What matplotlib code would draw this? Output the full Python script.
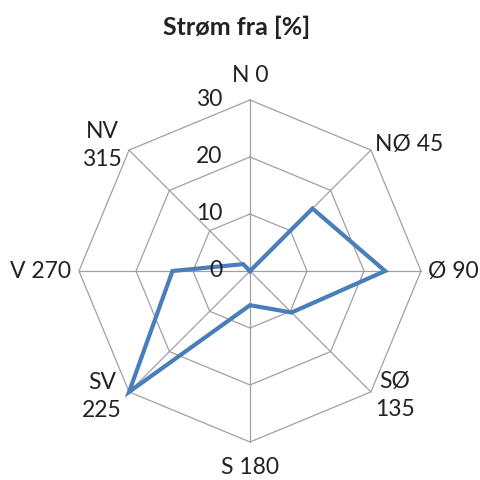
import numpy as np
import matplotlib.pyplot as plt

# data
retninger = ["N 0", "NØ 45", "Ø 90", "SØ\n135", "S 180", "SV\n225", "V 270", "NV\n315"]
vinkler = [0, 45, 90, 135, 180, 225, 270, 315]
strom = [0, 15.5, 23.7, 10.3, 6, 30, 13.6, 1.7]
ringer = [10, 20, 30]
ring_tekst = ["0", "10", "20", "30"]

# label offsets in pixels from each outer vertex
offsets = [(0, 25), (4, 6), (7, 0), (24, -4), (0, -26), (-27, -5), (-8, 0), (-27, 5)]
aligns = ["center", "left", "left", "center", "center", "center", "right", "center"]

plt.rcParams['font.family'] = ['Lato', 'DejaVu Sans']

fig = plt.figure(figsize=(4.8, 4.8), dpi=100)
ax = fig.add_axes([0, 0, 1, 1])
s = 171 / 30.0
ax.set_xlim(-250 / s, 230 / s)
ax.set_ylim(-209 / s, 271 / s)
ax.axis('off')

th = np.radians(vinkler)
th_c = np.append(th, th[0])
gra = '#a0a0a0'

# octagonal rings and spokes
for r in ringer:
    ax.plot(r * np.sin(th_c), r * np.cos(th_c), color=gra, lw=0.9, zorder=1)
for t in th:
    ax.plot([0, 30 * np.sin(t)], [0, 30 * np.cos(t)], color=gra, lw=0.9, zorder=1)

# series
v = np.array(strom + [strom[0]])
ax.plot(v * np.sin(th_c), v * np.cos(th_c), color='#4a7ebb', lw=3, zorder=3,
        solid_joinstyle='miter')

# radial tick labels
for i, txt in enumerate(ring_tekst):
    ax.annotate(txt, xy=(0, i * 10), xytext=(-28, 1), textcoords='offset pixels',
                ha='right', va='center', fontsize=16.5, color='#222222')

# category labels
for t, navn, off, ha in zip(th, retninger, offsets, aligns):
    ax.annotate(navn, xy=(30 * np.sin(t), 30 * np.cos(t)), xytext=off,
                textcoords='offset pixels', ha=ha, va='center', fontsize=16.5,
                color='#222222', linespacing=1.42, multialignment='center')

fig.text(237 / 480, 1 - 27 / 480, "Strøm fra [%]", ha='center', va='center',
         fontsize=18, fontweight='bold', color='#222222')

fig.savefig('out.png', dpi=100)
